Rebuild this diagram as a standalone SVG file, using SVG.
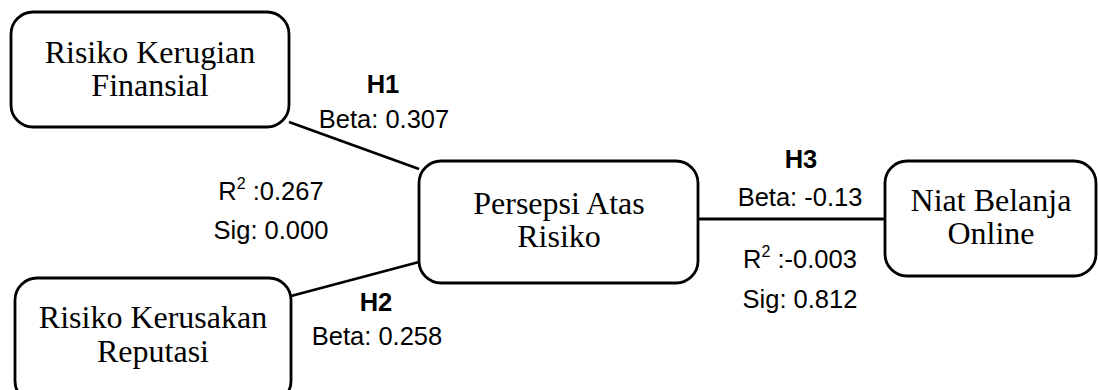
<svg xmlns="http://www.w3.org/2000/svg" width="1098" height="390" viewBox="0 0 1098 390">
<style>
.box{fill:#fff;stroke:#000;stroke-width:2.8}
.lbl{font-family:"Liberation Serif","Times New Roman",serif;font-size:32px;fill:#000;text-anchor:middle}
.t{font-family:"Liberation Sans",Arial,sans-serif;font-size:25.5px;fill:#000;text-anchor:middle}
.b{font-weight:bold}
.edge{stroke:#000;stroke-width:2.8;fill:none}
</style>
<rect width="1098" height="390" fill="#fff"/>
<g id="connectors">
<line class="edge" x1="289" y1="122" x2="419" y2="169"/>
<line class="edge" x1="291" y1="296" x2="419" y2="262"/>
<line class="edge" x1="698" y1="219" x2="885" y2="219"/>
</g>
<g id="node-finansial">
<rect class="box" x="11" y="12" width="278" height="115" rx="22"/>
<text class="lbl" x="150" y="63">Risiko Kerugian</text>
<text class="lbl" x="150" y="96">Finansial</text>
</g>
<g id="node-reputasi">
<rect class="box" x="15" y="278" width="276" height="125" rx="22"/>
<text class="lbl" x="153" y="328">Risiko Kerusakan</text>
<text class="lbl" x="153" y="362">Reputasi</text>
</g>
<g id="node-persepsi">
<rect class="box" x="419" y="161" width="279" height="122" rx="22"/>
<text class="lbl" x="559" y="214">Persepsi Atas</text>
<text class="lbl" x="559" y="247">Risiko</text>
</g>
<g id="node-niat">
<rect class="box" x="885" y="161" width="211" height="115" rx="22"/>
<text class="lbl" x="991" y="211">Niat Belanja</text>
<text class="lbl" x="991" y="244">Online</text>
</g>
<g id="labels">
<text class="t b" x="383" y="93">H1</text>
<text class="t" x="384" y="128">Beta: 0.307</text>
<text class="t" x="271" y="200">R<tspan font-size="16" dy="-11">2</tspan><tspan dy="11"> :0.267</tspan></text>
<text class="t" x="271" y="239">Sig: 0.000</text>
<text class="t b" x="376" y="311">H2</text>
<text class="t" x="377" y="345">Beta: 0.258</text>
<text class="t b" x="801" y="168">H3</text>
<text class="t" x="800" y="206">Beta: -0.13</text>
<text class="t" x="800" y="268">R<tspan font-size="16" dy="-11">2</tspan><tspan dy="11"> :-0.003</tspan></text>
<text class="t" x="800" y="308">Sig: 0.812</text>
</g>
</svg>
